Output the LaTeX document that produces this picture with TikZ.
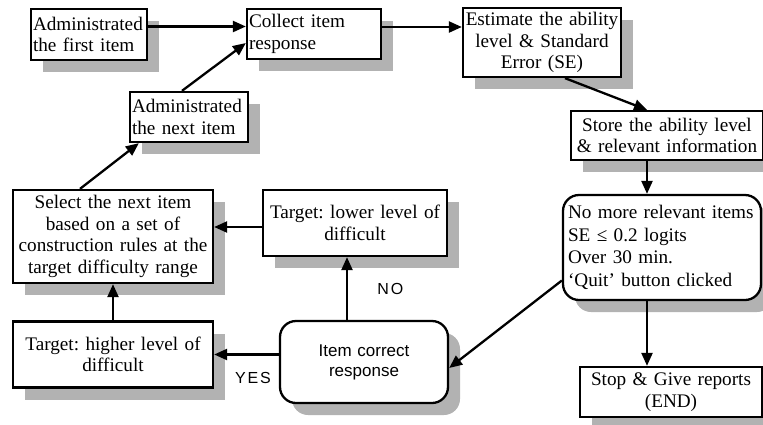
\documentclass[tikz,border=0pt]{standalone}
\usepackage{fontspec}
\setmainfont{Liberation Serif}
\newfontfamily\labelfont{Liberation Sans}
\newfontfamily\spacedfont[LetterSpace=12]{Liberation Sans}
\usetikzlibrary{positioning,shadows,arrows.meta}
\frenchspacing

\begin{document}
\begin{tikzpicture}[x=1pt,y=-1pt,
  box/.style={draw, line width=2.3pt, fill=white, inner sep=2pt,
    drop shadow={shadow xshift=12pt, shadow yshift=-12pt, fill=black!30, opacity=1},
    font=\fontsize{19.2}{21.5}\selectfont},
  rbox/.style={box, rounded corners=16pt},
  arr/.style={line width=2.3pt, -{Triangle[length=13pt,width=11pt]}},
  lbl/.style={font=\spacedfont\fontsize{16}{18}\selectfont}]
  % Fix the page size
  \useasboundingbox (0,0) rectangle (763,424);

  % Top row
  \node[box, minimum width=116pt, minimum height=51pt, text width=112pt, align=left] (first) at (89,34.5) {Administrated\\the first item};
  \node[box, minimum width=134pt, minimum height=50pt, text width=130pt, align=left] (collect) at (314,34) {Collect item\\response};
  \node[box, minimum width=158pt, minimum height=69pt, text width=154pt, align=center] (estimate) at (542,42.5) {Estimate the ability\\level \& Standard\\Error (SE)};
  \node[box, minimum width=118pt, minimum height=50pt, text width=114pt, align=left] (next) at (189,117) {Administrated\\the next item};

  % Right column
  \node[box, minimum width=192pt, minimum height=49pt, text width=188pt, align=center] (store) at (667,135.5) {Store the ability level\\\& relevant information};
  \node[rbox, minimum width=198pt, minimum height=105pt, text width=188pt, align=left, font=\fontsize{19.2}{22.5}\selectfont] (nomore) at (662,247.5) {No more relevant items\\SE ≤ 0.2 logits\\Over 30 min.\\‘Quit’ button clicked};
  \node[box, minimum width=182pt, minimum height=50pt, text width=178pt, align=center] (stop) at (671,392) {Stop \& Give reports\\(END)};

  % Left and middle
  \node[box, minimum width=200pt, minimum height=93pt, text width=196pt, align=center] (select) at (113,236.5) {Select the next item\\based on a set of\\construction rules at the\\target difficulty range};
  \node[box, minimum width=184pt, minimum height=66pt, text width=180pt, align=center] (lower) at (355,223) {Target: lower level of\\difficult};
  \node[box, minimum width=200pt, minimum height=66pt, text width=196pt, align=center] (higher) at (113,354.5) {Target: higher level of\\difficult};
  \node[rbox, minimum width=168pt, minimum height=82pt, text width=164pt, align=center, font=\labelfont\fontsize{17}{20}\selectfont] (item) at (364,362) {Item correct\\response};

  % Connectors
  \draw[arr] ([yshift=8pt]first.east) -- ([yshift=8pt]first.east -| collect.west);
  \draw[arr] ([yshift=7pt]collect.east) -- ([yshift=7pt]collect.east -| estimate.west);
  \draw[arr] ([xshift=23pt]estimate.south) -- ([xshift=-20pt]store.north);
  \draw[arr] ([xshift=-20pt]store.south) -- ([xshift=-20pt]store.south |- nomore.north);
  \draw[arr] ([xshift=-15pt]nomore.south) -- ([xshift=-15pt]nomore.south |- stop.north);
  \draw[arr] ([yshift=-33pt]nomore.west) -- ([yshift=-6pt]item.east);
  \draw[arr] ([xshift=-17pt]item.north) -- ([xshift=-17pt]item.north |- lower.south) node[lbl, midway, right=26pt] (no) {NO};
  \draw[arr] (item.west |- higher.east) -- (higher.east) node[lbl, pos=0.4, below=13pt] (yes) {YES};
  \draw[arr] ([yshift=-4pt]lower.west) -- ([yshift=-4pt]lower.west -| select.east);
  \draw[arr] (higher.north) -- (select.south);
  \draw[arr] ([xshift=-33pt]select.north) -- ([xshift=10pt]next.south west);
  \draw[arr] ([xshift=-7pt]next.north) -- ([yshift=-9pt]collect.west);
\end{tikzpicture}
\end{document}
